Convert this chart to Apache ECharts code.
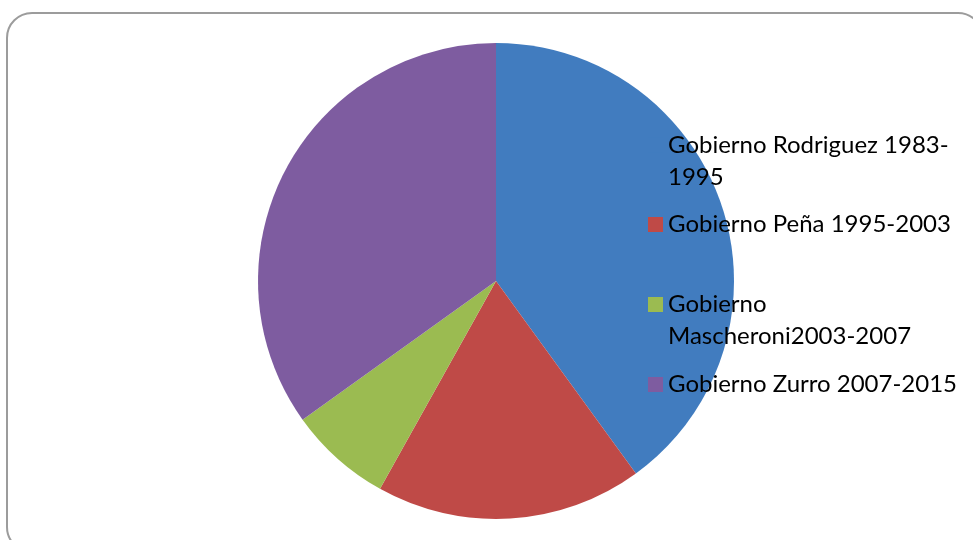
<!DOCTYPE html>
<html>
<head>
<meta charset="utf-8">
<title>Gobiernos</title>
<script src="https://cdn.jsdelivr.net/npm/echarts@6/dist/echarts.min.js"></script>
<style>
  html, body { margin: 0; padding: 0; background: #ffffff; }
  #chart { width: 973px; height: 540px; }
</style>
</head>
<body>
<div id="chart"></div>
<script>
// Periods of government and their share of the whole
const categories = [
  'Gobierno Rodriguez 1983-1995',
  'Gobierno Peña 1995-2003',
  'Gobierno Mascheroni2003-2007',
  'Gobierno Zurro 2007-2015'
];
const shares = [40.0, 18.1, 7.0, 34.9];
// Legend text as it wraps in the legend column
const legendText = [
  'Gobierno Rodriguez 1983-\n1995',
  'Gobierno Peña 1995-2003',
  'Gobierno\nMascheroni2003-2007',
  'Gobierno Zurro 2007-2015'
];
const colors = ['#417CBF', '#BF4A47', '#9BBB51', '#7E5CA0'];

const FONT = 'Lato';
const FONT_SIZE = 24;
const LINE_H = 32;

// vertical position of each legend entry (top of its box)
const legendTops = [97, 208.5, 256.5, 368.5];

const chart = echarts.init(document.getElementById('chart'), null, { renderer: 'canvas' });

const legends = categories.map((name, i) => {
  const wrapped = legendText[i].indexOf('\n') >= 0;
  return {
    data: [name],
    orient: 'vertical',
    left: 648,
    top: legendTops[i],
    padding: 0,
    itemWidth: 15,
    itemHeight: 15,
    icon: 'rect',
    selectedMode: false,
    // a blank leading line keeps the marker level with the first wrapped line
    formatter: () => (wrapped ? '\n' : '') + legendText[i],
    textStyle: {
      fontFamily: FONT,
      fontSize: FONT_SIZE,
      lineHeight: LINE_H,
      color: '#000000'
    }
  };
});

chart.setOption({
  animation: false,
  color: colors,
  graphic: [{
    type: 'rect',
    z: -1,
    shape: { x: 7, y: 13, width: 976, height: 539, r: 25 },
    style: { fill: 'none', stroke: '#9c9c9c', lineWidth: 2 }
  }],
  legend: legends,
  series: [{
    type: 'pie',
    center: [496, 281],
    radius: 238,
    startAngle: 90,
    clockwise: true,
    label: { show: false },
    labelLine: { show: false },
    emphasis: { disabled: true },
    itemStyle: { borderWidth: 0 },
    data: categories.map((name, i) => ({ name: name, value: shares[i] }))
  }]
});
</script>
</body>
</html>
